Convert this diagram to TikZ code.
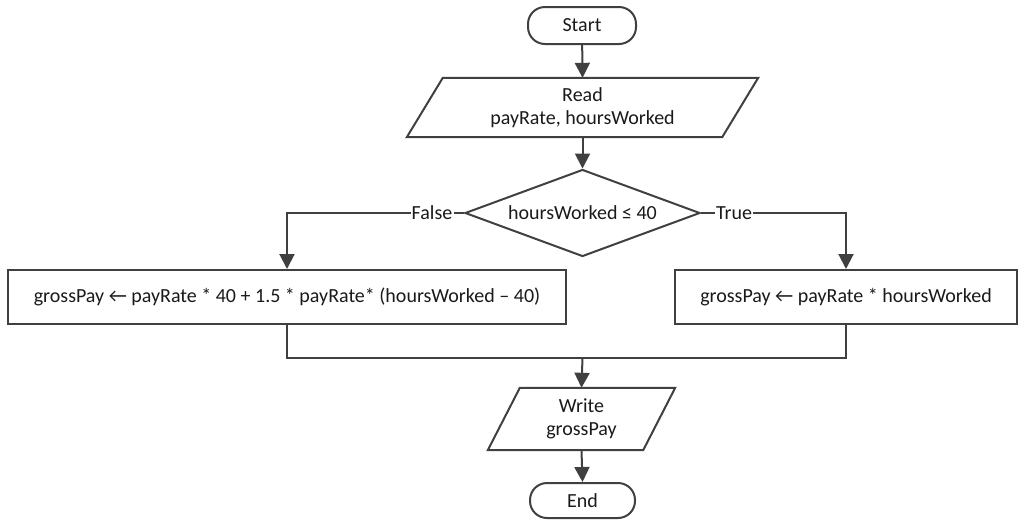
\documentclass[tikz,border=0pt]{standalone}
\usepackage{fontspec}
\setmainfont{Carlito}
\usetikzlibrary{shapes.geometric,arrows.meta}
\definecolor{ln}{HTML}{404040}
\definecolor{tx}{HTML}{1A1A1A}
\begin{document}
\begin{tikzpicture}[x=1pt,y=-1pt,
  font=\fontsize{20}{23}\selectfont,
  every node/.style={text=tx, align=center},
  base/.style={draw=ln, line width=2pt, fill=white},
  term/.style={base, rounded corners=17pt, minimum width=108pt, minimum height=37pt, inner sep=0pt},
  io/.style={minimum width=351pt, minimum height=59pt, inner sep=0pt},
  proc/.style={base, minimum height=54pt, inner sep=0pt},
  dec/.style={base, diamond, aspect=2.7, minimum width=235pt, minimum height=87pt, inner sep=0pt},
  flow/.style={draw=ln, line width=2pt, -{Triangle[length=15pt,width=15pt]}},
  conn/.style={draw=ln, line width=2pt},
  lbl/.style={fill=white, inner sep=1pt}
]
\useasboundingbox (0,0) rectangle (1020,520);

\node[term] (start) at (582,25.5) {Start};

\node[io] (read) at (582.5,107.5) {};
\draw[base, line join=miter] ([xshift=36pt]read.north west) -- (read.north east) -- ([xshift=-36pt]read.south east) -- (read.south west) -- cycle;
\node at (read.center) {Read\\payRate, hoursWorked};

\node[dec] (dec) at (582.5,213) {hoursWorked ≤ 40};

\node[proc, minimum width=558pt] (left) at (287,297) {grossPay ← payRate * 40 + 1.5 * payRate* (hoursWorked – 40)};
\node[proc, minimum width=342pt] (right) at (846,297) {grossPay ← payRate * hoursWorked};

\node[lbl] (f) at (432,213) {False};
\node[lbl] (t) at (734,213) {True};

\node[io, minimum width=187pt, minimum height=62pt] (write) at (581.5,419) {};
\draw[base, line join=miter] ([xshift=32pt]write.north west) -- (write.north east) -- ([xshift=-32pt]write.south east) -- (write.south west) -- cycle;
\node at (write.center) {Write\\grossPay};

\node[term, minimum width=105pt, minimum height=35pt] (end) at (582.5,500.5) {End};

\coordinate (m) at (582.5,358);

\draw[flow] (start) -- (read.north);
\draw[flow] (read.south) -- (dec.north);
\draw[conn] (dec.west) -- (f.east);
\draw[flow] (f.west) -| (left.north);
\draw[conn] (dec.east) -- (t.west);
\draw[flow] (t.east) -| (right.north);
\draw[conn] (left.south) |- (m);
\draw[conn] (right.south) |- (m);
\draw[flow] (m) -- (write.north);
\draw[flow] (write.south) -- (end.north);
\end{tikzpicture}
\end{document}
